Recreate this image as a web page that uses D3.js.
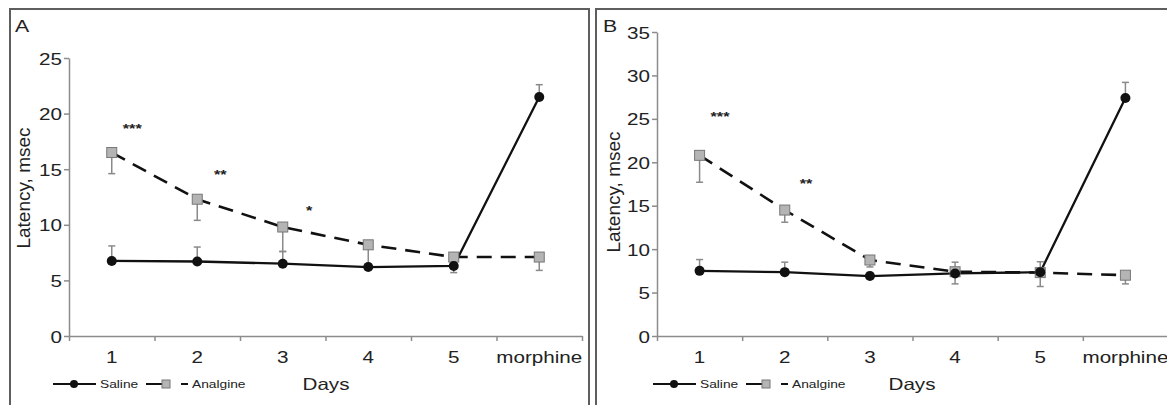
<!DOCTYPE html>
<html>
<head>
<meta charset="utf-8">
<script src="https://cdn.jsdelivr.net/npm/d3@7"></script>
<style>
  html, body { margin: 0; padding: 0; background: #fff; }
  svg { display: block; }
  text { font-family: "Liberation Sans", Arial, sans-serif; fill: #222; }
</style>
</head>
<body>
<svg id="chart" width="1167" height="405"></svg>
<script>
// ---------- data ----------
const categories = ["1", "2", "3", "4", "5", "morphine"];

const salineA      = [6.75, 6.7, 6.5, 6.2, 6.3, 21.5];
const salineA_err  = [1.35, 1.3, 1.1, 0.3, 0.3, 1.1];
const analgineA    = [16.5, 12.3, 9.8, 8.2, 7.1, 7.1];
const analgineA_err= [1.9, 1.9, 2.2, 1.7, 1.4, 1.2];

const salineB      = [7.5, 7.35, 6.9, 7.2, 7.35, 27.4];
const salineB_err  = [1.3, 1.15, 0.4, 1.3, 1.2, 1.8];
const analgineB    = [20.8, 14.5, 8.75, 7.4, 7.3, 7.0];
const analgineB_err= [3.1, 1.4, 0.8, 1.4, 1.6, 1.0];

const yTicksA = [0, 5, 10, 15, 20, 25];
const yTicksB = [0, 5, 10, 15, 20, 25, 30, 35];

// significance marks: label, category index (fractional), value
const starsA = [["***", 0.24, 18.9], ["**", 1.27, 14.75], ["*", 2.31, 11.5]];
const starsB = [["***", 0.24, 25.6], ["**", 1.25, 17.8]];

const seriesNames = ["Saline", "Analgine"];
const panelLabels = ["A", "B"];
const yTitle = "Latency, msec";
const xTitle = "Days";

// ---------- drawing ----------
const svg = d3.select("#chart");
const SX = 1.25; // horizontal stretch of the original text

function txt(g, x, y, s, size, anchor, extra) {
  const t = g.append("text")
    .attr("transform", `translate(${x},${y}) scale(${SX},1)`)
    .attr("text-anchor", anchor || "start")
    .style("font-size", size + "px")
    .text(s);
  if (extra) extra(t);
  return t;
}

function panel(cfg) {
  const g = svg.append("g");
  // frame
  g.append("rect")
    .attr("x", cfg.bx0).attr("y", 9)
    .attr("width", cfg.bx1 - cfg.bx0).attr("height", 420)
    .attr("fill", "#fff").attr("stroke", "#5e5e5e").attr("stroke-width", 2);

  const x = d3.scaleBand().domain(categories).range([cfg.x0, cfg.x1]).padding(0);
  const xl = d3.scaleLinear().domain([0, categories.length]).range([cfg.x0, cfg.x1]);
  const y = d3.scaleLinear().domain([0, cfg.yMax]).range([336, cfg.yTop]);
  const cx = i => x(categories[i]) + x.bandwidth() / 2;

  // y axis
  const ya = g.append("g").attr("transform", `translate(${cfg.x0},0)`)
    .call(d3.axisLeft(y).tickValues(cfg.yTicks).tickSize(5).tickSizeOuter(0).tickFormat(d3.format("d")));
  ya.select(".domain").attr("stroke", "#8c8c8c").attr("stroke-width", 1.5);
  ya.selectAll(".tick line").attr("stroke", "#8c8c8c").attr("stroke-width", 1.5);
  ya.selectAll(".tick text")
    .attr("x", null).attr("dy", null)
    .attr("transform", `translate(-7,6) scale(${SX},1)`)
    .style("font-size", "16.5px")
    .attr("fill", "#222");

  // x axis (ticks at category boundaries)
  const xa = g.append("g").attr("transform", `translate(0,336)`)
    .call(d3.axisBottom(xl).tickValues(d3.range(categories.length + 1)).tickSize(5).tickSizeOuter(0).tickFormat(""));
  xa.select(".domain").attr("stroke", "#8c8c8c").attr("stroke-width", 1.5);
  xa.selectAll(".tick line").attr("stroke", "#8c8c8c").attr("stroke-width", 1.5);

  categories.forEach((c, i) => txt(g, cx(i), 363, c, 16.5, "middle"));

  // titles
  txt(g, cfg.labelX, 32, cfg.label, 17, "start");
  g.append("text")
    .attr("transform", `translate(${cfg.yTitleX},${cfg.yTitleY}) rotate(-90)`)
    .attr("text-anchor", "middle")
    .style("font-size", "19px")
    .text(yTitle);
  txt(g, cfg.daysX, 390, xTitle, 16.5, "middle");

  // error bars
  function errBars(vals, errs, sign) {
    const eg = g.append("g").attr("stroke", "#8a8a8a").attr("stroke-width", 1.5);
    vals.forEach((v, i) => {
      const y1 = y(v), y2 = y(v + sign * errs[i]);
      eg.append("line").attr("x1", cx(i)).attr("x2", cx(i)).attr("y1", y1).attr("y2", y2);
      eg.append("line").attr("x1", cx(i) - 3.5).attr("x2", cx(i) + 3.5).attr("y1", y2).attr("y2", y2);
    });
  }
  errBars(cfg.sal, cfg.salErr, +1);
  errBars(cfg.ana, cfg.anaErr, -1);

  const line = d3.line().x((d, i) => cx(i)).y(d => y(d));
  g.append("path").datum(cfg.ana).attr("d", line)
    .attr("fill", "none").attr("stroke", "#111").attr("stroke-width", 2.6)
    .attr("stroke-dasharray", "15,9");
  g.append("path").datum(cfg.sal).attr("d", line)
    .attr("fill", "none").attr("stroke", "#111").attr("stroke-width", 2.3);

  g.selectAll(".sq").data(cfg.ana).enter().append("rect")
    .attr("x", (d, i) => cx(i) - 5).attr("y", d => y(d) - 5)
    .attr("width", 10).attr("height", 10)
    .attr("fill", "#b4b4b4").attr("stroke", "#777").attr("stroke-width", 1);
  g.selectAll(".ci").data(cfg.sal).enter().append("circle")
    .attr("cx", (d, i) => cx(i)).attr("cy", d => y(d)).attr("r", 5)
    .attr("fill", "#111");

  // significance marks
  cfg.stars.forEach(s => {
    const px = x(categories[0]) + x.bandwidth() / 2 + s[1] * x.bandwidth();
    txt(g, px, y(s[2]) + 7, s[0], 13, "middle", t => t.style("font-weight", "bold"));
  });

  // legend
  const lg = g.append("g").attr("transform", `translate(${cfg.legX},384)`);
  lg.append("line").attr("x1", 0).attr("x2", 43).attr("y1", 0).attr("y2", 0)
    .attr("stroke", "#111").attr("stroke-width", 2);
  lg.append("circle").attr("cx", 21).attr("cy", 0).attr("r", 4).attr("fill", "#111");
  txt(lg, 47, 4, seriesNames[0], 11, "start");
  lg.append("line").attr("x1", 93).attr("x2", 110).attr("y1", 0).attr("y2", 0)
    .attr("stroke", "#111").attr("stroke-width", 2);
  lg.append("rect").attr("x", 109).attr("y", -4).attr("width", 8).attr("height", 8)
    .attr("fill", "#b4b4b4").attr("stroke", "#777").attr("stroke-width", 1);
  lg.append("line").attr("x1", 128).attr("x2", 135).attr("y1", 0).attr("y2", 0)
    .attr("stroke", "#111").attr("stroke-width", 2);
  txt(lg, 139, 4, seriesNames[1], 11, "start");
}

panel({
  label: panelLabels[0], labelX: 15, bx0: 10, bx1: 589,
  x0: 69, x1: 582, yMax: 25, yTop: 58, yTicks: yTicksA,
  yTitleX: 30, yTitleY: 188, daysX: 326, legX: 53,
  sal: salineA, salErr: salineA_err, ana: analgineA, anaErr: analgineA_err, stars: starsA
});
panel({
  label: panelLabels[1], labelX: 603, bx0: 596, bx1: 1180,
  x0: 657, x1: 1168, yMax: 35, yTop: 32, yTicks: yTicksB,
  yTitleX: 620, yTitleY: 192, daysX: 912, legX: 653,
  sal: salineB, salErr: salineB_err, ana: analgineB, anaErr: analgineB_err, stars: starsB
});
</script>
</body>
</html>
